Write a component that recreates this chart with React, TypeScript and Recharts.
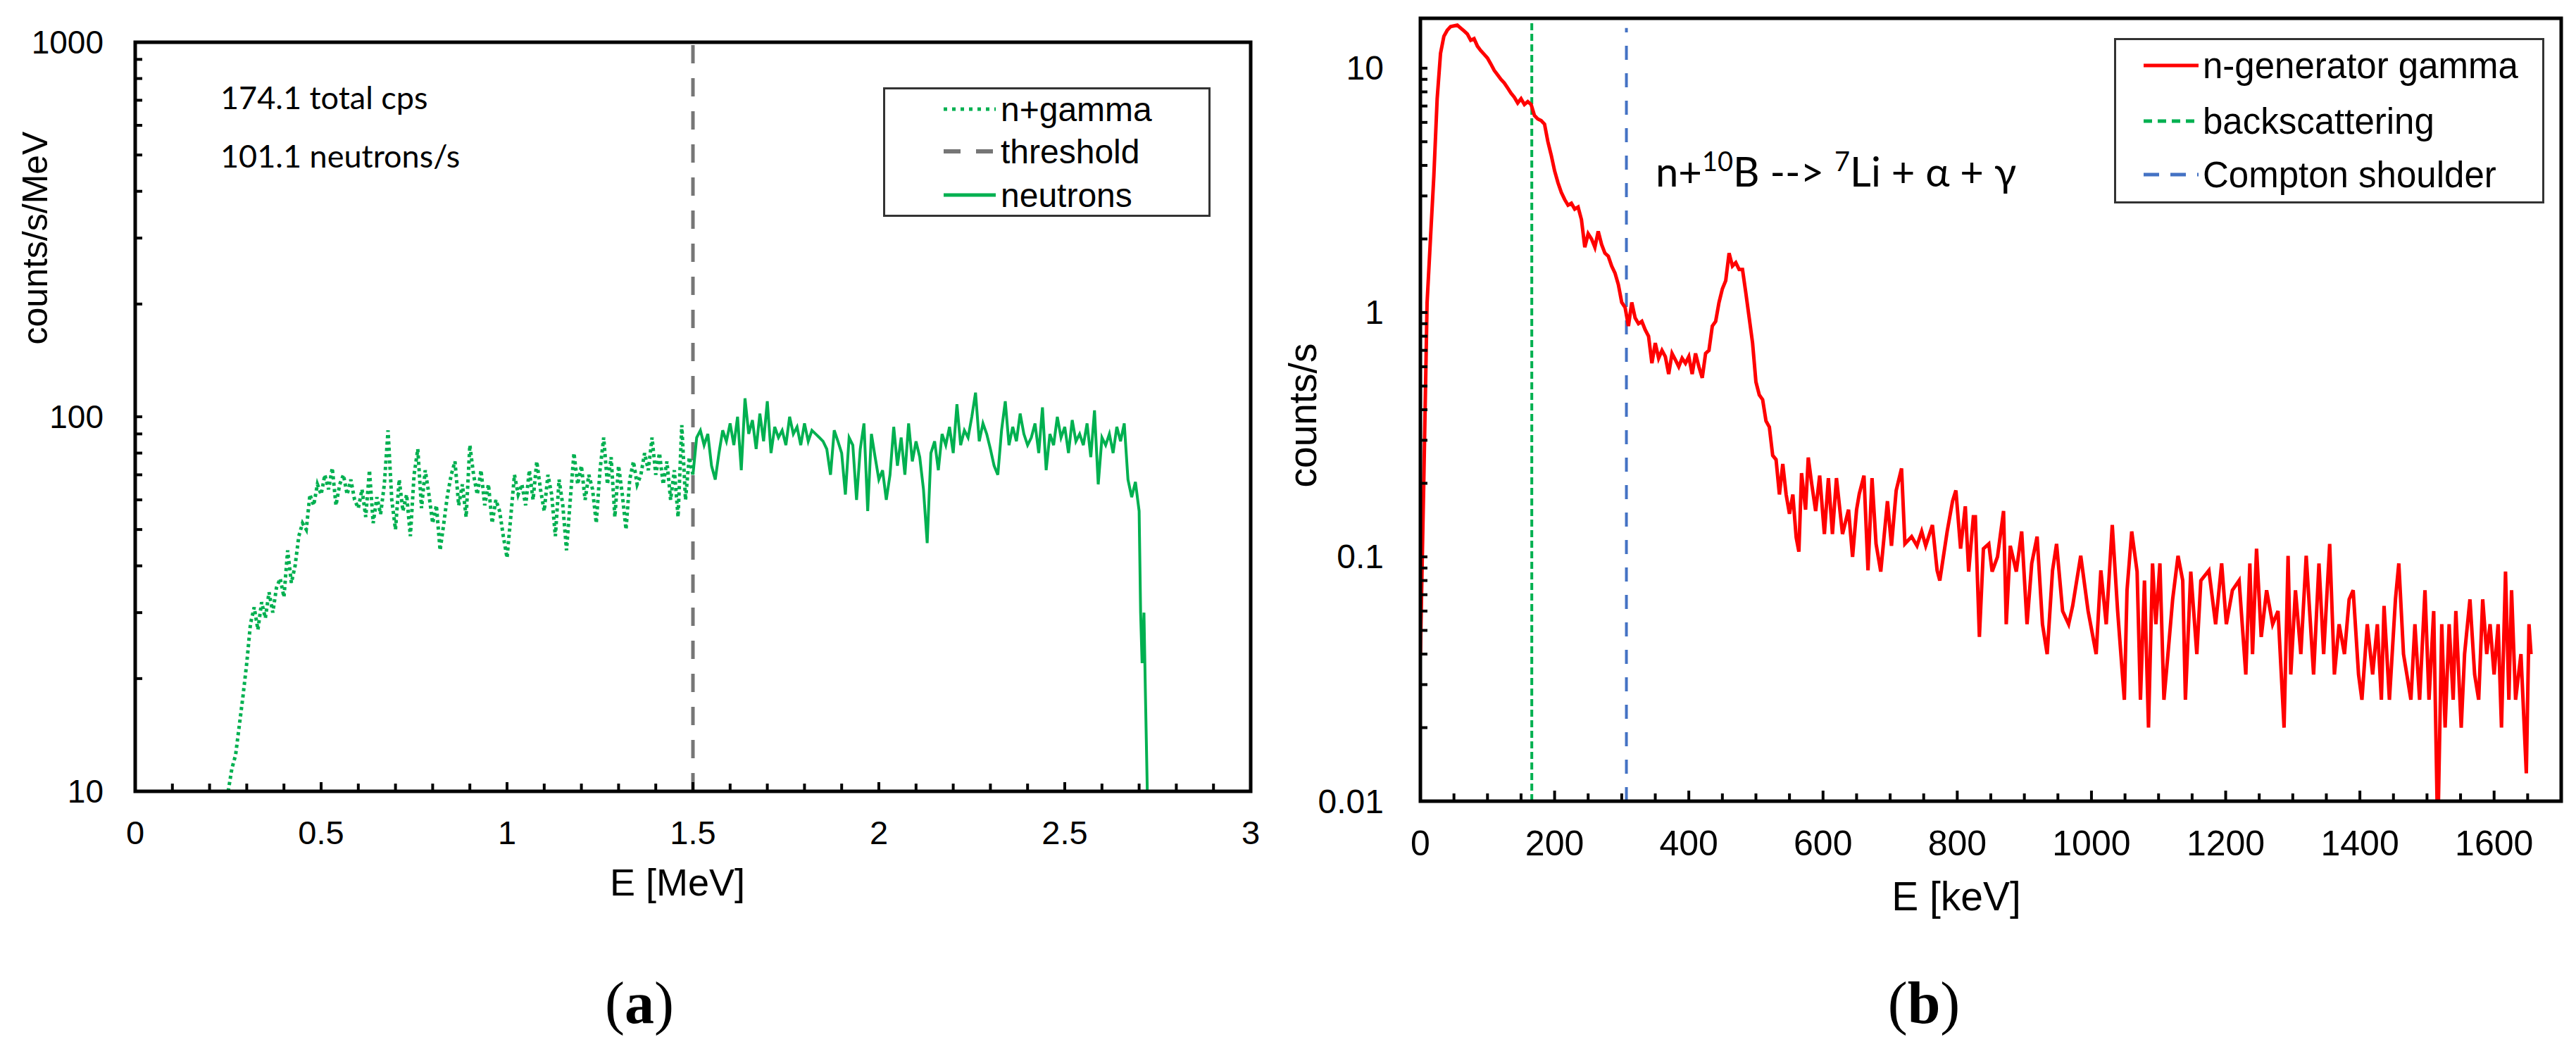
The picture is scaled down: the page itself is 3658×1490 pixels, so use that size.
import React from 'react';
import { LineChart, Line, XAxis, YAxis, ReferenceLine, Legend } from 'recharts';

const GREEN = '#00B050';
const RED = '#FF0000';
const GREY = '#767676';
const BLUE = '#4472C4';
const AXIS_FONT = '"Liberation Sans", Arial, sans-serif';
const NOTE_FONT = 'Lato, "Open Sans", sans-serif';
const SERIF = '"Liberation Serif", "DejaVu Serif", serif';

// ---- panel (a): pulse height spectrum, 10 keV bins ----
const binWidth = 0.01;
const nGammaStart = 0.25;
const nGammaCounts = [
  10, 11.5, 12.5, 15, 18, 22, 28, 31, 27, 32,
  29, 34, 30, 35, 37, 33, 44, 36, 40, 48,
  52, 50, 62, 58, 66, 62, 70, 64, 73, 58,
  66, 70, 62, 68, 60, 57, 64, 54, 72, 52,
  61, 55, 66, 92, 60, 50, 68, 56, 62, 48,
  70, 82, 57, 72, 62, 52, 58, 44, 52, 62,
  70, 76, 58, 66, 54, 84, 70, 62, 72, 58,
  66, 52, 60, 56, 48, 42, 54, 70, 62, 66,
  58, 72, 60, 76, 64, 56, 70, 62, 48, 68,
  58, 44, 60, 80, 66, 74, 60, 70, 64, 52,
  72, 88, 66, 78, 54, 74, 62, 50, 68, 76,
  66, 70, 80, 72, 88, 70, 80, 66, 76, 60,
  72, 54, 95, 60, 78, 70,
];
const neutronStart = 1.5;
const neutronCounts = [
  70, 88, 92, 84, 90, 74, 68, 80, 92, 86,
  96, 84, 100, 72, 112, 90, 98, 82, 102, 86,
  110, 80, 94, 88, 92, 84, 100, 90, 94, 84,
  96, 86, 92, 90, 88, 86, 82, 70, 92, 86,
  80, 62, 88, 84, 60, 82, 96, 56, 90, 78,
  68, 72, 60, 70, 94, 74, 88, 70, 96, 76,
  86, 78, 64, 46, 80, 86, 72, 90, 84, 94,
  80, 108, 84, 92, 88, 100, 116, 86, 96, 90,
  82, 74, 70, 92, 110, 84, 94, 86, 102, 90,
  84, 88, 96, 80, 106, 72, 90, 84, 100, 88,
  94, 80, 98, 86, 90, 84, 96, 78, 104, 66,
  88, 84, 90, 80, 94, 86, 96, 68, 61, 67,
  56,
];
const neutronTailEnergy = [2.704, 2.708, 2.713, 2.717, 2.722];
const neutronTailCounts = [30, 22, 30, 18, 10];
const thresholdMeV = 1.5;

const meVTicks = [
  0, 0.1, 0.2, 0.3, 0.4, 0.5, 0.6, 0.7, 0.8, 0.9, 1, 1.1, 1.2, 1.3, 1.4, 1.5,
  1.6, 1.7, 1.8, 1.9, 2, 2.1, 2.2, 2.3, 2.4, 2.5, 2.6, 2.7, 2.8, 2.9, 3,
];
const meVLabels = [0, 0.5, 1, 1.5, 2, 2.5, 3];
const perMeVTicks = [10, 20, 30, 40, 50, 60, 70, 80, 90, 100, 200, 300, 400, 500, 600, 700, 800, 900, 1000];
const perMeVLabels = [10, 100, 1000];

// ---- panel (b): gamma spectrum of the neutron generator ----
const gammaLowStep = 5;
const gammaLowCounts = [
  0.04, 0.2, 1.1, 2.0, 3.6, 7.5, 11.5, 13.5, 14.3, 14.8,
  14.9, 15.0, 14.6, 14.2, 13.8, 13.0, 13.2, 12.3, 11.8, 11.4,
  11.0, 10.4, 9.8, 9.4, 9.0, 8.7, 8.3, 7.9, 7.6, 7.2,
  7.5, 7.1, 7.3, 7.1, 6.4, 6.2, 6.1, 5.9, 5.0, 4.4,
  3.8, 3.4, 3.1, 2.9, 2.75, 2.8, 2.65, 2.7, 2.4, 1.85,
  2.1, 2.0, 1.85, 2.15, 1.9, 1.75, 1.7, 1.55, 1.45, 1.3,
  1.1, 1.05, 0.88, 1.1, 0.95, 0.9, 0.92, 0.85, 0.8, 0.62,
  0.75, 0.65, 0.7, 0.66, 0.56, 0.68, 0.64, 0.6, 0.65, 0.62,
  0.66, 0.56, 0.68, 0.6, 0.54, 0.68, 0.7, 0.88, 0.92, 1.1,
  1.25, 1.35, 1.75, 1.55, 1.6, 1.5, 1.5, 1.2, 0.95, 0.75,
  0.52, 0.46, 0.44, 0.36, 0.34, 0.26, 0.25, 0.18, 0.24, 0.18,
  0.15, 0.18, 0.12,
];
const gammaTailEnergy = [
  564, 568, 574, 578, 583, 589, 595, 602, 608, 614,
  620, 629, 638, 644, 650, 654, 661, 667, 673, 679,
  686, 696, 702, 709, 717, 722, 732, 740, 747, 753,
  763, 770, 774, 785, 793, 798, 805, 812, 817, 824,
  827, 833, 839, 847, 852, 860, 869, 873, 879, 888,
  896, 904, 911, 919, 927, 934, 942, 948, 957, 966,
  972, 984, 995, 1007, 1014, 1022, 1031, 1039, 1049, 1053,
  1060, 1068, 1073, 1079, 1085, 1091, 1096, 1102, 1108, 1114,
  1121, 1129, 1136, 1140, 1148, 1157, 1163, 1175, 1185, 1194,
  1201, 1210, 1220, 1230, 1236, 1240, 1246, 1253, 1261, 1270,
  1278, 1287, 1293, 1297, 1304, 1312, 1320, 1331, 1339, 1346,
  1355, 1362, 1369, 1377, 1384, 1390, 1398, 1403, 1411, 1419,
  1426, 1432, 1436, 1444, 1453, 1458, 1465, 1470, 1476, 1482,
  1489, 1497, 1503, 1510, 1516, 1522, 1527, 1533, 1539, 1543,
  1551, 1556, 1564, 1571, 1577, 1583, 1589, 1594, 1600, 1606,
  1611, 1617, 1622, 1626, 1632, 1640, 1648, 1652, 1655,
];
const gammaTailCounts = [
  0.105, 0.22, 0.156, 0.255, 0.2, 0.154, 0.215, 0.124, 0.21, 0.124,
  0.21, 0.124, 0.156, 0.1, 0.156, 0.181, 0.215, 0.088, 0.21, 0.113,
  0.087, 0.169, 0.111, 0.187, 0.23, 0.113, 0.121, 0.111, 0.127, 0.111,
  0.135, 0.088, 0.08, 0.127, 0.169, 0.187, 0.108, 0.161, 0.087, 0.146,
  0.146, 0.047, 0.108, 0.113, 0.087, 0.1, 0.154, 0.053, 0.111, 0.087,
  0.127, 0.053, 0.094, 0.121, 0.053, 0.04, 0.088, 0.113, 0.06, 0.053,
  0.063, 0.101, 0.06, 0.04, 0.088, 0.053, 0.135, 0.06, 0.026, 0.073,
  0.127, 0.087, 0.026, 0.08, 0.02, 0.094, 0.053, 0.094, 0.026, 0.04,
  0.067, 0.101, 0.08, 0.026, 0.087, 0.04, 0.08, 0.088, 0.053, 0.094,
  0.053, 0.073, 0.08, 0.033, 0.094, 0.04, 0.108, 0.047, 0.073, 0.053,
  0.06, 0.02, 0.101, 0.033, 0.073, 0.04, 0.101, 0.033, 0.094, 0.04,
  0.113, 0.033, 0.053, 0.04, 0.067, 0.073, 0.033, 0.026, 0.053, 0.033,
  0.053, 0.026, 0.063, 0.026, 0.067, 0.094, 0.04, 0.033, 0.026, 0.053,
  0.026, 0.073, 0.026, 0.06, 0.007, 0.053, 0.02, 0.053, 0.026, 0.06,
  0.02, 0.04, 0.067, 0.033, 0.026, 0.067, 0.04, 0.053, 0.033, 0.053,
  0.02, 0.087, 0.026, 0.073, 0.026, 0.04, 0.013, 0.053, 0.04,
];
const backscatterKeV = 166;
const comptonKeV = 307;
const comptonTop = 14.6;

const keVTicks = [
  0, 50, 100, 150, 200, 250, 300, 350, 400, 450, 500, 550, 600, 650, 700, 750, 800, 850,
  900, 950, 1000, 1050, 1100, 1150, 1200, 1250, 1300, 1350, 1400, 1450, 1500, 1550, 1600, 1650, 1700,
];
const keVLabels = [0, 200, 400, 600, 800, 1000, 1200, 1400, 1600];
const cpsTicks = [
  0.01, 0.02, 0.03, 0.04, 0.05, 0.06, 0.07, 0.08, 0.09,
  0.1, 0.2, 0.3, 0.4, 0.5, 0.6, 0.7, 0.8, 0.9,
  1, 2, 3, 4, 5, 6, 7, 8, 9, 10,
];
const cpsLabels = [0.01, 0.1, 1, 10];

const nGammaData = nGammaCounts.map((c, i) => ({ e: +(nGammaStart + i * binWidth).toFixed(3), c }));
const neutronData = [
  ...neutronCounts.map((c, i) => ({ e: +(neutronStart + i * binWidth).toFixed(3), c })),
  ...neutronTailEnergy.map((e, i) => ({ e, c: neutronTailCounts[i] })),
];
const gammaData = [
  ...gammaLowCounts.map((c, i) => ({ e: i * gammaLowStep, c })),
  ...gammaTailEnergy.map((e, i) => ({ e, c: gammaTailCounts[i] })),
];

// ticks point into the plot, Excel style; the mark is drawn here so it sits inside
const bottomTick = (labels: number[], fontSize: number, gap: number, len: number, majorLen: number) => (props: any) => {
  const { x, y, payload } = props;
  const axisY = y - gap;
  const isLabel = labels.includes(payload.value);
  return (
    <g>
      <path d={`M${x},${axisY}V${axisY - (isLabel ? majorLen : len)}`} stroke="#000000" strokeWidth={4} fill="none" />
      {isLabel && (
        <text x={x} y={y} textAnchor="middle" dominantBaseline="central" fontSize={fontSize} fontFamily={AXIS_FONT} fill="#000">
          {payload.value}
        </text>
      )}
    </g>
  );
};

const leftTick = (labels: number[], fontSize: number, gap: number, len: number) => (props: any) => {
  const { x, y, payload } = props;
  const axisX = x + gap;
  const isLabel = labels.includes(payload.value);
  return (
    <g>
      <path d={`M${axisX},${y}H${axisX + len}`} stroke="#000000" strokeWidth={4} fill="none" />
      {isLabel && (
        <text x={x} y={y} textAnchor="end" dominantBaseline="central" fontSize={fontSize} fontFamily={AXIS_FONT} fill="#000">
          {payload.value}
        </text>
      )}
    </g>
  );
};

type LegendItem = { label: string; color: string; width: number; dash?: string };

const LegendBox = ({ items, w, h, rows, x0, x1, tx, fontSize }: {
  items: LegendItem[]; w: number; h: number; rows: number[]; x0: number; x1: number; tx: number; fontSize: number;
}) => (
  <svg width={w} height={h} style={{ display: 'block' }}>
    <rect x={1.5} y={1.5} width={w - 3} height={h - 3} fill="#fff" stroke="#333" strokeWidth={3} />
    {items.map((it, i) => (
      <g key={it.label}>
        <line x1={x0} x2={x1} y1={rows[i]} y2={rows[i]} stroke={it.color} strokeWidth={it.width} strokeDasharray={it.dash} />
        <text x={tx} y={rows[i]} dominantBaseline="central" fontSize={fontSize} fontFamily={AXIS_FONT} fill="#000">
          {it.label}
        </text>
      </g>
    ))}
  </svg>
);

const legendA: LegendItem[] = [
  { label: 'n+gamma', color: GREEN, width: 5, dash: '5 7' },
  { label: 'threshold', color: GREY, width: 6, dash: '24 22' },
  { label: 'neutrons', color: GREEN, width: 5 },
];
const legendB: LegendItem[] = [
  { label: 'n-generator gamma', color: RED, width: 5 },
  { label: 'backscattering', color: GREEN, width: 5, dash: '12 8' },
  { label: 'Compton shoulder', color: BLUE, width: 5, dash: '22 16' },
];

// plot frames (page pixels), matching each chart's margins and axis sizes below
const frameA = { x: 192, y: 60, w: 1584, h: 1064 };
const frameB = { x: 2017, y: 26, w: 1620, h: 1112 };

export default function App() {
  return (
    <div style={{ position: 'absolute', left: 0, top: 0, width: 3658, height: 1490, background: '#fff' }}>
      <LineChart
        width={1800}
        height={1300}
        margin={{ top: 60, right: 24, bottom: 26, left: 0 }}
        style={{ position: 'absolute', left: 0, top: 0 }}
      >
        <XAxis
          type="number"
          dataKey="e"
          domain={[0, 3]}
          ticks={meVTicks}
          interval={0}
          allowDataOverflow
          height={150}
          stroke="#000"
          axisLine={false}
          tickLine={false}
          tickSize={0}
          tickMargin={58}
          tick={bottomTick(meVLabels, 47, 58, 11, 13)}
        />
        <YAxis
          type="number"
          scale="log"
          domain={[10, 1000]}
          ticks={perMeVTicks}
          interval={0}
          allowDataOverflow
          width={192}
          stroke="#000"
          axisLine={false}
          tickLine={false}
          tickSize={0}
          tickMargin={45}
          tick={leftTick(perMeVLabels, 46, 45, 10)}
        />
        <ReferenceLine x={thresholdMeV} stroke={GREY} strokeWidth={5} strokeDasharray="26 21" />
        <Line data={nGammaData} dataKey="c" type="linear" stroke={GREEN} strokeWidth={5} strokeDasharray="4.5 4.5" dot={false} isAnimationActive={false} />
        <Line data={neutronData} dataKey="c" type="linear" stroke={GREEN} strokeWidth={4} dot={false} isAnimationActive={false} />
        <Legend
          layout="vertical"
          align="center"
          verticalAlign="middle"
          wrapperStyle={{ position: 'absolute', left: 1254, top: 124, width: 465, height: 184 }}
          content={() => <LegendBox items={legendA} w={465} h={184} rows={[31, 91, 153]} x0={86} x1={160} tx={167} fontSize={48} />}
        />
      </LineChart>

      <LineChart
        width={1858}
        height={1320}
        margin={{ top: 26, right: 21, bottom: 32, left: 0 }}
        style={{ position: 'absolute', left: 1800, top: 0 }}
      >
        <XAxis
          type="number"
          dataKey="e"
          domain={[0, 1700]}
          ticks={keVTicks}
          interval={0}
          allowDataOverflow
          height={150}
          stroke="#000"
          axisLine={false}
          tickLine={false}
          tickSize={0}
          tickMargin={60}
          tick={bottomTick(keVLabels, 50, 60, 11, 15)}
        />
        <YAxis
          type="number"
          scale="log"
          domain={[0.01, 16]}
          ticks={cpsTicks}
          interval={0}
          allowDataOverflow
          width={217}
          stroke="#000"
          axisLine={false}
          tickLine={false}
          tickSize={0}
          tickMargin={52}
          tick={leftTick(cpsLabels, 48, 52, 10)}
        />
        <ReferenceLine x={backscatterKeV} stroke={GREEN} strokeWidth={4} strokeDasharray="10 5" />
        <ReferenceLine
          segment={[{ x: comptonKeV, y: 0.01 }, { x: comptonKeV, y: comptonTop }]}
          stroke={BLUE}
          strokeWidth={4}
          strokeDasharray="20 19"
        />
        <Line data={gammaData} dataKey="c" type="linear" stroke={RED} strokeWidth={5} dot={false} isAnimationActive={false} />
        <Legend
          layout="vertical"
          align="center"
          verticalAlign="middle"
          wrapperStyle={{ position: 'absolute', left: 1202, top: 54, width: 611, height: 235 }}
          content={() => <LegendBox items={legendB} w={611} h={235} rows={[39, 118, 194]} x0={42} x1={120} tx={126} fontSize={51} />}
        />
      </LineChart>

      <svg width={3658} height={1490} style={{ position: 'absolute', left: 0, top: 0, pointerEvents: 'none' }}>
        {[frameA, frameB].map((f, i) => (
          <rect key={i} x={f.x} y={f.y} width={f.w} height={f.h} fill="none" stroke="#000" strokeWidth={5} />
        ))}
        <text x={50} y={338} transform="rotate(-90 50 338)" textAnchor="middle" dominantBaseline="central" fontSize={50} fontFamily={AXIS_FONT}>
          counts/s/MeV
        </text>
        <text x={1850} y={590} transform="rotate(-90 1850 590)" textAnchor="middle" dominantBaseline="central" fontSize={55} fontFamily={AXIS_FONT}>
          counts/s
        </text>
        <text x={962} y={1272} textAnchor="middle" fontSize={54} fontFamily={AXIS_FONT}>E [MeV]</text>
        <text x={2778} y={1293} textAnchor="middle" fontSize={57} fontFamily={AXIS_FONT}>E [keV]</text>
        <text x={313} y={155} fontSize={45} fontFamily={NOTE_FONT}>174.1 total cps</text>
        <text x={313} y={238} fontSize={45} fontFamily={NOTE_FONT}>101.1 neutrons/s</text>
        <text x={2351} y={265} fontSize={58} fontFamily={NOTE_FONT}>
          {'n+'}
          <tspan fontSize={38} dy={-22}>10</tspan>
          <tspan dy={22}>{'B --> '}</tspan>
          <tspan fontSize={38} dy={-22}>7</tspan>
          <tspan dy={22}>{'Li + α + γ'}</tspan>
        </text>
        <text x={908} y={1453} textAnchor="middle" fontSize={84} fontFamily={SERIF}>
          (<tspan fontWeight="bold">a</tspan>)
        </text>
        <text x={2732} y={1453} textAnchor="middle" fontSize={84} fontFamily={SERIF}>
          (<tspan fontWeight="bold">b</tspan>)
        </text>
      </svg>
    </div>
  );
}
